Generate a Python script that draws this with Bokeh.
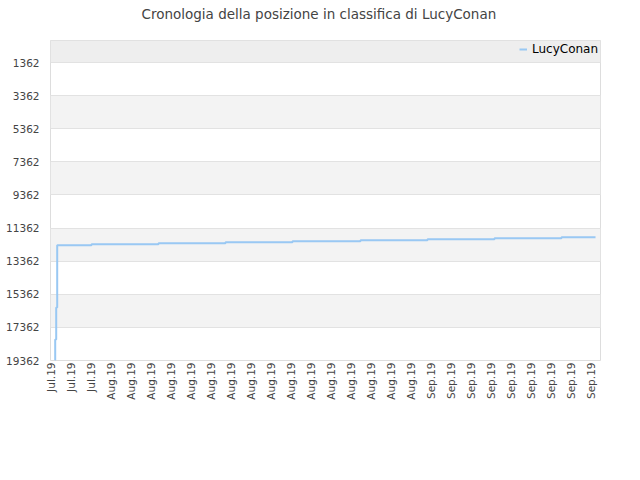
import math
import pandas as pd
from bokeh.plotting import figure
from bokeh.models import (Range1d, FixedTicker, DatetimeTickFormatter, BoxAnnotation,
                          Legend, LegendItem)
from bokeh.embed import file_html
from bokeh.resources import INLINE

title_text = "Cronologia della posizione in classifica di LucyConan"
series_name = "LucyConan"

# rank history (step data)
dates = pd.to_datetime([
    "2019-07-26 11:00", "2019-07-26 11:17", "2019-07-26 13:41", "2019-07-26 16:05",
    "2019-07-30 02:24", "2019-08-05 19:12", "2019-08-12 12:00", "2019-08-19 04:48",
    "2019-08-26 00:00", "2019-09-01 16:48", "2019-09-08 09:36", "2019-09-15 02:24",
    "2019-09-18 12:00",
])
ranks = [19362, 18090, 16160, 12400, 12340, 12275, 12215, 12155, 12095, 12035, 11975, 11915, 11915]

y_ticks = [1362, 3362, 5362, 7362, 9362, 11362, 13362, 15362, 17362, 19362]
y_top = 33
x_ticks = pd.date_range("2019-07-26", "2019-09-18", freq="2D")
x_start = pd.Timestamp("2019-07-26")
x_end = pd.Timestamp("2019-09-19")

FONT = "DejaVu Sans"

p = figure(frame_width=550, frame_height=320, output_backend="svg", toolbar_location=None,
           x_axis_type="datetime",
           x_range=Range1d(x_start, x_end),
           y_range=Range1d(y_ticks[-1], y_top),
           min_border_left=50, min_border_right=24, min_border_top=40, min_border_bottom=104)

p.background_fill_color = "white"
p.outline_line_color = "#dddddd"

# bands
p.add_layout(BoxAnnotation(top=y_top, bottom=y_ticks[0], fill_color="#eeeeee", fill_alpha=1,
                           line_color=None, level="image"))
for i in range(1, len(y_ticks) - 1, 2):
    p.add_layout(BoxAnnotation(top=y_ticks[i], bottom=y_ticks[i + 1], fill_color="#f3f3f3",
                               fill_alpha=1, line_color=None, level="image"))

r = p.step(dates, ranks, mode="after", line_color="#99c8f3", line_width=2)

# axes
p.xgrid.grid_line_color = None
p.ygrid.grid_line_color = "#e2e2e2"
p.ygrid.ticker = FixedTicker(ticks=y_ticks)

p.yaxis.ticker = FixedTicker(ticks=y_ticks)
p.yaxis.axis_line_color = None
p.yaxis.major_tick_line_color = None
p.yaxis.minor_tick_line_color = None
p.yaxis.major_label_text_font = FONT
p.yaxis.major_label_text_font_size = "10.5px"
p.yaxis.major_label_text_color = "#444444"
p.yaxis.major_label_standoff = 5

x_ms = [t.value / 1e6 for t in x_ticks]
p.xaxis.ticker = FixedTicker(ticks=x_ms)
p.xaxis.formatter = DatetimeTickFormatter(days="%b.%y", months="%b.%y", hours="%b.%y")
p.xaxis.axis_line_color = None
p.xaxis.major_tick_line_color = None
p.xaxis.minor_tick_line_color = None
p.xaxis.major_tick_out = 0
p.xaxis.major_label_orientation = math.pi / 2
p.xaxis.major_label_text_font = FONT
p.xaxis.major_label_text_font_size = "10.5px"
p.xaxis.major_label_text_color = "#444444"
p.xaxis.major_label_standoff = 2

# title
p.title.text = title_text
p.title.align = "left"
p.title.vertical_align = "bottom"
p.title.text_font = FONT
p.title.text_font_size = "13.5px"
p.title.text_font_style = "normal"
p.title.text_color = "#444444"
p.title.offset = 91
p.title.standoff = 0
p.title.padding = dict(left=0, right=0, top=0, bottom=19)

legend = Legend(items=[LegendItem(label=series_name, renderers=[r])],
                location=(469, 304), padding=0, margin=0, spacing=0,
                glyph_width=8, glyph_height=12, label_height=12, label_standoff=5,
                label_text_font=FONT, label_text_font_size="12px",
                label_text_color="#000000", border_line_color=None,
                background_fill_alpha=0)
p.add_layout(legend)

open("out.html", "w").write(file_html(p, INLINE))
